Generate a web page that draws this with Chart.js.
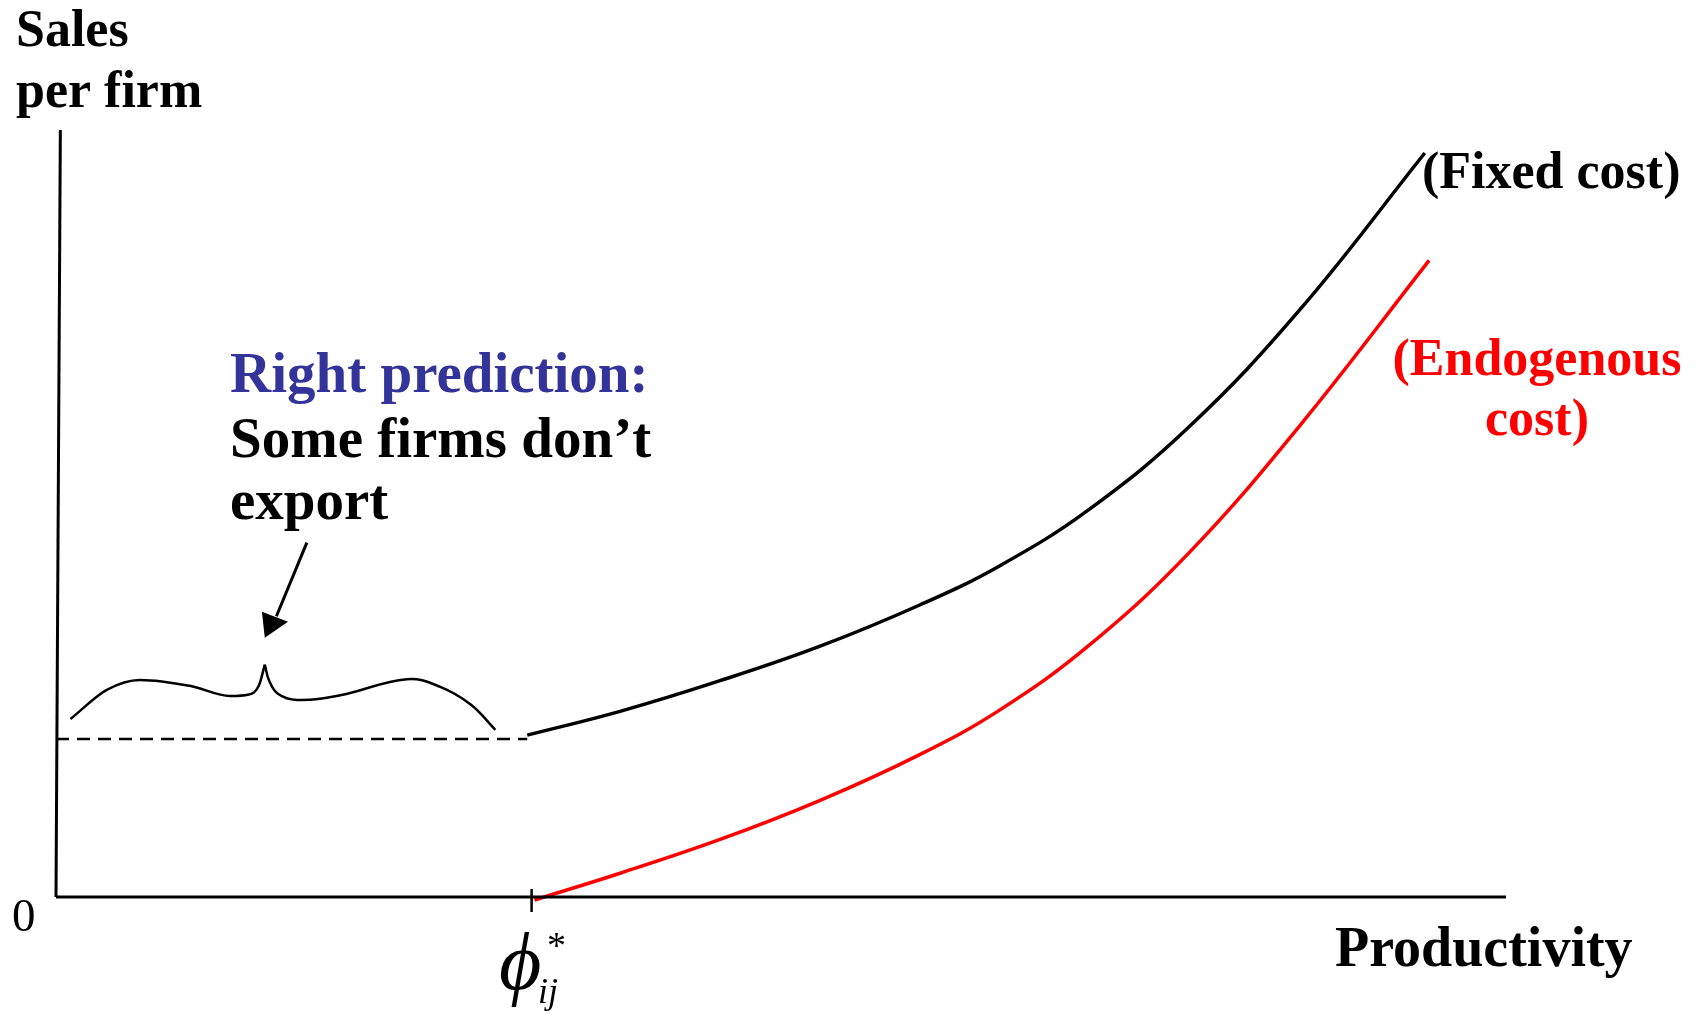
<!DOCTYPE html>
<html>
<head>
<meta charset="utf-8">
<script src="https://cdn.jsdelivr.net/npm/chart.js@4"></script>
<style>
  html, body { margin: 0; padding: 0; background: #fff; }
  #wrap { width: 1705px; height: 1014px; }
</style>
</head>
<body>
<div id="wrap"><canvas id="chart" width="1705" height="1014"></canvas></div>
<script>
// productivity (x) and sales per firm (y), both on a 0..100 scale
const fixedCostX = [32.5, 38.9, 45.8, 52.7, 59.6, 65.1, 71.3, 78.2, 85.8, 94.4];
const fixedCostY = [21.1, 24.2, 28.2, 32.7, 38.1, 43.2, 50.6, 61.4, 76.6, 97.0];

const endoCostX = [33.0, 38.9, 45.8, 52.7, 59.6, 65.1, 71.3, 78.2, 85.8, 94.7];
const endoCostY = [-0.4, 3.1, 7.5, 12.6, 18.6, 24.4, 32.9, 45.0, 61.5, 83.0];

// cutoff productivity phi*_ij and the sales level of the dashed line
const cutoffX = 32.8;
const dashedY = 20.6;

// the curly brace over the non-exporters (two halves, cusp in the middle)
const braceLeftX = [1.0, 3.5, 5.8, 9.3, 12.0, 13.3, 14.0, 14.4];
const braceLeftY = [23.2, 27.0, 28.3, 27.5, 26.2, 26.4, 27.6, 30.3];
const braceRightX = [14.4, 14.7, 15.3, 16.6, 19.6, 24.2, 26.5, 28.6, 30.3];
const braceRightY = [30.3, 28.2, 26.5, 25.7, 26.3, 28.4, 27.4, 25.1, 21.8];

// axes
const xAxisX = [0, 100];
const xAxisY = [0, 0];
const yAxisX = [0, 0.3];
const yAxisY = [0, 100];

function pts(xs, ys) {
  return xs.map((x, i) => ({ x: x, y: ys[i] }));
}

const serif = '"Liberation Serif", "Times New Roman", serif';

const labelsPlugin = {
  id: 'labels',
  afterDatasetsDraw(chart) {
    const ctx = chart.ctx;
    const xs = chart.scales.x, ys = chart.scales.y;
    const px = v => xs.getPixelForValue(v);
    const py = v => ys.getPixelForValue(v);
    ctx.save();

    // tick at the cutoff
    ctx.strokeStyle = '#000';
    ctx.lineWidth = 2.5;
    ctx.beginPath();
    ctx.moveTo(px(cutoffX), py(0) - 8);
    ctx.lineTo(px(cutoffX), py(0) + 15);
    ctx.stroke();

    // arrow pointing at the brace
    ctx.lineWidth = 3;
    ctx.beginPath();
    ctx.moveTo(px(17.3), py(46.2));
    ctx.lineTo(px(15.2), py(36.6));
    ctx.stroke();
    ctx.fillStyle = '#000';
    ctx.beginPath();
    ctx.moveTo(px(14.4), py(33.8));
    ctx.lineTo(px(14.2), py(37.2));
    ctx.lineTo(px(16.0), py(35.9));
    ctx.closePath();
    ctx.fill();

    ctx.textBaseline = 'alphabetic';
    ctx.textAlign = 'left';
    ctx.fillStyle = '#000';
    ctx.font = 'bold 52px ' + serif;
    ctx.fillText('Sales', 16, 46);
    ctx.fillText('per firm', 16, 107);
    ctx.fillText('(Fixed cost)', 1422, 188);

    ctx.font = 'bold 56px ' + serif;
    ctx.fillText('Productivity', 1335, 966);

    ctx.font = '47px ' + serif;
    ctx.fillText('0', 12, 931);

    ctx.font = 'bold 57px ' + serif;
    ctx.fillStyle = '#333399';
    ctx.fillText('Right prediction:', 230, 392);
    ctx.fillStyle = '#000';
    ctx.fillText('Some firms don\u2019t', 230, 457);
    ctx.fillText('export', 230, 519);

    ctx.fillStyle = '#ff0000';
    ctx.textAlign = 'center';
    ctx.font = 'bold 52px ' + serif;
    ctx.fillText('(Endogenous', 1537, 375);
    ctx.fillText('cost)', 1537, 435);

    // phi*_ij
    ctx.fillStyle = '#000';
    ctx.textAlign = 'left';
    ctx.font = 'italic 82px ' + serif;
    ctx.fillText('\u03D5', 499, 989);
    ctx.font = '38px ' + serif;
    ctx.fillText('*', 547, 958);
    ctx.font = 'italic 36px ' + serif;
    ctx.fillText('ij', 538, 1003);

    ctx.restore();
  }
};

const ctx = document.getElementById('chart').getContext('2d');
new Chart(ctx, {
  type: 'line',
  data: {
    datasets: [
      { label: 'x axis', data: pts(xAxisX, xAxisY), borderColor: '#000', borderWidth: 3, tension: 0 },
      { label: 'y axis', data: pts(yAxisX, yAxisY), borderColor: '#000', borderWidth: 3, tension: 0 },
      { label: 'Fixed cost', data: pts(fixedCostX, fixedCostY), borderColor: '#000', borderWidth: 3.5,
        tension: 0.4 },
      { label: 'Endogenous cost', data: pts(endoCostX, endoCostY), borderColor: '#ff0000', borderWidth: 3.5,
        tension: 0.4 },
      { label: 'dashed', data: pts([0, fixedCostX[0]], [dashedY, dashedY]), borderColor: '#000', borderWidth: 2.5,
        borderDash: [13, 8], tension: 0 },
      { label: 'brace left', data: pts(braceLeftX, braceLeftY), borderColor: '#000', borderWidth: 2.5,
        cubicInterpolationMode: 'monotone' },
      { label: 'brace right', data: pts(braceRightX, braceRightY), borderColor: '#000', borderWidth: 2.5,
        tension: 0.4 }
    ]
  },
  options: {
    responsive: false,
    animation: false,
    clip: false,
    layout: { padding: { left: 56, right: 199, top: 130, bottom: 117 } },
    elements: { point: { radius: 0, hoverRadius: 0 }, line: { fill: false, borderCapStyle: 'butt' } },
    scales: {
      x: { type: 'linear', min: 0, max: 100, display: false },
      y: { type: 'linear', min: 0, max: 100, display: false }
    },
    plugins: { legend: { display: false }, tooltip: { enabled: false } }
  },
  plugins: [labelsPlugin]
});
</script>
</body>
</html>
